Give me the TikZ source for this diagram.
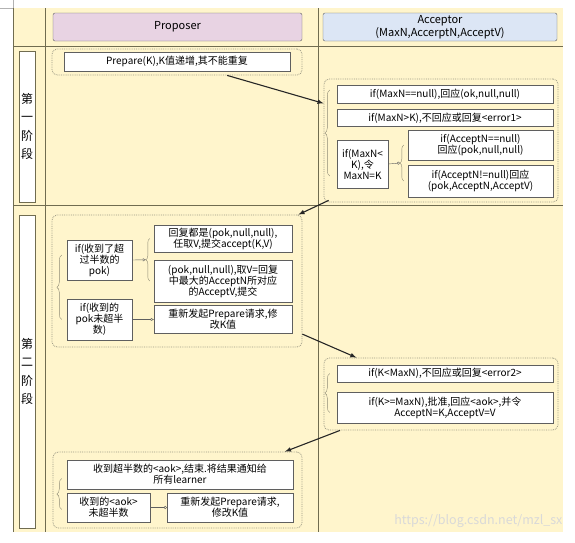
\documentclass[tikz,border=0pt]{standalone}
\usepackage{fontspec}
\setmainfont{Noto Sans CJK SC}
\usetikzlibrary{arrows.meta}
\usetikzlibrary{calc}
\usetikzlibrary{decorations.pathreplacing}
\tikzset{>=latex}
\definecolor{bgcol}{RGB}{255,245,204}
\definecolor{lanecol}{RGB}{112,108,80}
\definecolor{boxcol}{RGB}{95,95,95}
\definecolor{propcol}{RGB}{232,211,227}
\definecolor{acccol}{RGB}{220,230,245}
\colorlet{bracecol}{lanecol!80}
\tikzstyle{msg}=[draw=boxcol,fill=white,inner sep=0pt,align=center,font=\fontsize{10}{11}\selectfont]
\tikzstyle{grp}=[draw=lanecol!70,densely dotted,line width=0.8pt,rounded corners=5pt,inner sep=0pt]
\tikzstyle{head}=[draw=boxcol,rounded corners=2pt,inner sep=0pt,align=center,font=\fontsize{11}{12.5}\selectfont]
\tikzstyle{stage}=[draw=lanecol,fill=white,inner sep=0pt,align=center,font=\fontsize{12}{18.5}\selectfont]
\tikzstyle{cbrace}=[draw=bracecol,decorate,decoration={brace,amplitude=5pt}]
\tikzstyle{link}=[->,line width=1.1pt,black!85]
\tikzstyle{tieT}=[-{Triangle[open,length=3pt,width=3pt]},draw=boxcol]
\tikzstyle{tieO}=[-{Circle[open,length=3pt]},draw=boxcol]

\begin{document}
\begin{tikzpicture}[x=1pt,y=-1pt]
  \def\W{575}   % picture width
  \def\H{542}   % picture height
  \useasboundingbox (0,0) rectangle (\W,\H);
  \fill[white] (0,0) rectangle (\W,\H);

  % swim lanes
  \fill[bgcol] (13,8) rectangle (563,532);
  \draw[gray!60] (0,8) -- (13,8) -- (13,0);
  \draw[lanecol] (13,8) -- (13,532);
  \foreach \x in {45,318} {
    \draw[lanecol] (\x,8) -- (\x,532);
  }
  \foreach \y in {46,205} {
    \draw[lanecol] (13,\y) -- (563,\y);
  }

  % headers and stages
  \node[head,fill=propcol,minimum width=249,minimum height=28] (hProp) at (177.5,27) {Proposer};
  \node[head,fill=acccol,minimum width=234,minimum height=28] (hAcc) at (440,27) {Acceptor\\(MaxN,AccerptN,AcceptV)};
  \node[stage,minimum width=16,minimum height=151] (st1) at (27,126.5) {第\\一\\阶\\段};
  \node[stage,minimum width=16,minimum height=313] (st2) at (27,371.5) {第\\二\\阶\\段};

  % groups
  \node[grp,minimum width=250,minimum height=26] (g1) at (177,62) {};
  \node[grp,minimum width=234,minimum height=123] (a1) at (441,140.5) {};
  \node[grp,minimum width=250,minimum height=132] (g2) at (177,281) {};
  \node[grp,minimum width=234,minimum height=72] (a2) at (441,394) {};
  \node[grp,minimum width=249,minimum height=76] (g3) at (177.5,490) {};

  % phase one
  \node[msg,minimum width=226,minimum height=19] (prep) at (177,61.5) {Prepare(K),K值递增,其不能重复};
  \node[msg,minimum width=216,minimum height=18] (aNull) at (445,94) {if(MaxN==null),回应(ok,null,null)};
  \node[msg,minimum width=216,minimum height=17] (aErr1) at (445,118) {if(MaxN>K),不回应或回复<error1>};
  \node[msg,minimum width=51,minimum height=48] (aLess) at (362.5,164) {if(MaxN<\\K),令\\MaxN=K};
  \node[msg,minimum width=145,minimum height=30] (aPok) at (480.5,145) {if(AcceptN==null)\\回应(pok,null,null)};
  \node[msg,minimum width=145,minimum height=32] (aPok2) at (480.5,181) {if(AcceptN!=null)回应\\(pok,AcceptN,AcceptV)};

  % phase two
  \node[msg,minimum width=65,minimum height=40] (pMaj) at (99.5,260) {if(收到了超\\过半数的\\pok)};
  \node[msg,minimum width=65,minimum height=41] (pMin) at (99.5,319.5) {if(收到的\\pok未超半\\数)};
  \node[msg,minimum width=138,minimum height=27] (pAny) at (223,238.5) {回复都是(pok,null,null),\\任取V,提交accept(K,V)};
  \node[msg,minimum width=138,minimum height=42] (pMax) at (223,281) {(pok,null,null),取V=回复\\中最大的AcceptN所对应\\的AcceptV,提交};
  \node[msg,minimum width=138,minimum height=28] (pRe1) at (223,319) {重新发起Prepare请求,修\\改K值};
  \node[msg,minimum width=216,minimum height=17] (aLow) at (445,373.5) {if(K<MaxN),不回应或回复<error2>};
  \node[msg,minimum width=216,minimum height=31] (aOk) at (445,407.5) {if(K>=MaxN),批准,回应<aok>,并令\\AcceptN=K,AcceptV=V};
  \node[msg,minimum width=226,minimum height=29] (pDone) at (180,474.5) {收到超半数的<aok>,结束.将结果通知给\\所有learner};
  \node[msg,minimum width=83,minimum height=29] (pFew) at (108.5,507.5) {收到的<aok>\\未超半数};
  \node[msg,minimum width=126,minimum height=29] (pRe2) at (230,507.5) {重新发起Prepare请求,\\修改K值};

  % braces
  \draw[cbrace] ($(aLess.west)+(-7,12)$) -- ($(aNull.west)+(-7,-4)$);
  \draw[cbrace,decoration={amplitude=4pt}] ($(aPok2.west)+(-4,0)$) -- ($(aPok.west)+(-4,0)$);
  \draw[cbrace] ($(pMin.west)+(-5,0)$) -- ($(pMaj.west)+(-5,-5)$);
  \draw[cbrace,decoration={amplitude=4pt}] ($(pMax.west)+(-4,0)$) -- ($(pAny.west)+(-4,0)$);
  \draw[cbrace] ($(aOk.west)+(-7,5)$) -- ($(aLow.west)+(-7,0)$);
  \draw[cbrace] ($(pFew.west)+(-5,2)$) -- ($(pDone.west)+(-5,4)$);
  \coordinate (tipA) at ($(aPok.west)!0.5!(aPok2.west)+(-8,0)$);
  \coordinate (tipP) at ($(pAny.west)!0.5!(pMax.west)+(-8,0)$);
  \draw[tieO] (aLess.east) -- (tipA);
  \draw[tieT] (pMaj.east) -- (tipP);
  \draw[tieT] (pMin.east) -- (pMin.east -| pRe1.west);
  \draw[tieO] (pFew.east) -- (pRe2.west);

  % messages between the lanes
  \draw[link] ($(g1.south west)!0.7!(g1.south east)$) -- ($(a1.north west)!0.2!(a1.south west)$);
  \draw[link] ($(a1.south west)+(5,-2)$) -- ($(g2.north east)+(-4,0)$);
  \draw[link] ($(g2.north east)!0.9!(g2.south east)$) -- ($(a2.north west)!0.14!(a2.north east)$);
  \draw[link] ($(a2.south west)!0.07!(a2.south east)$) -- ($(g3.north west)!0.93!(g3.north east)$);

  % watermark
  \node[text=white!70!gray,font=\fontsize{12.5}{14}\selectfont,anchor=east] (mark) at (566,521) {https://blog.csdn.net/mzl\_sx};
\end{tikzpicture}
\end{document}
